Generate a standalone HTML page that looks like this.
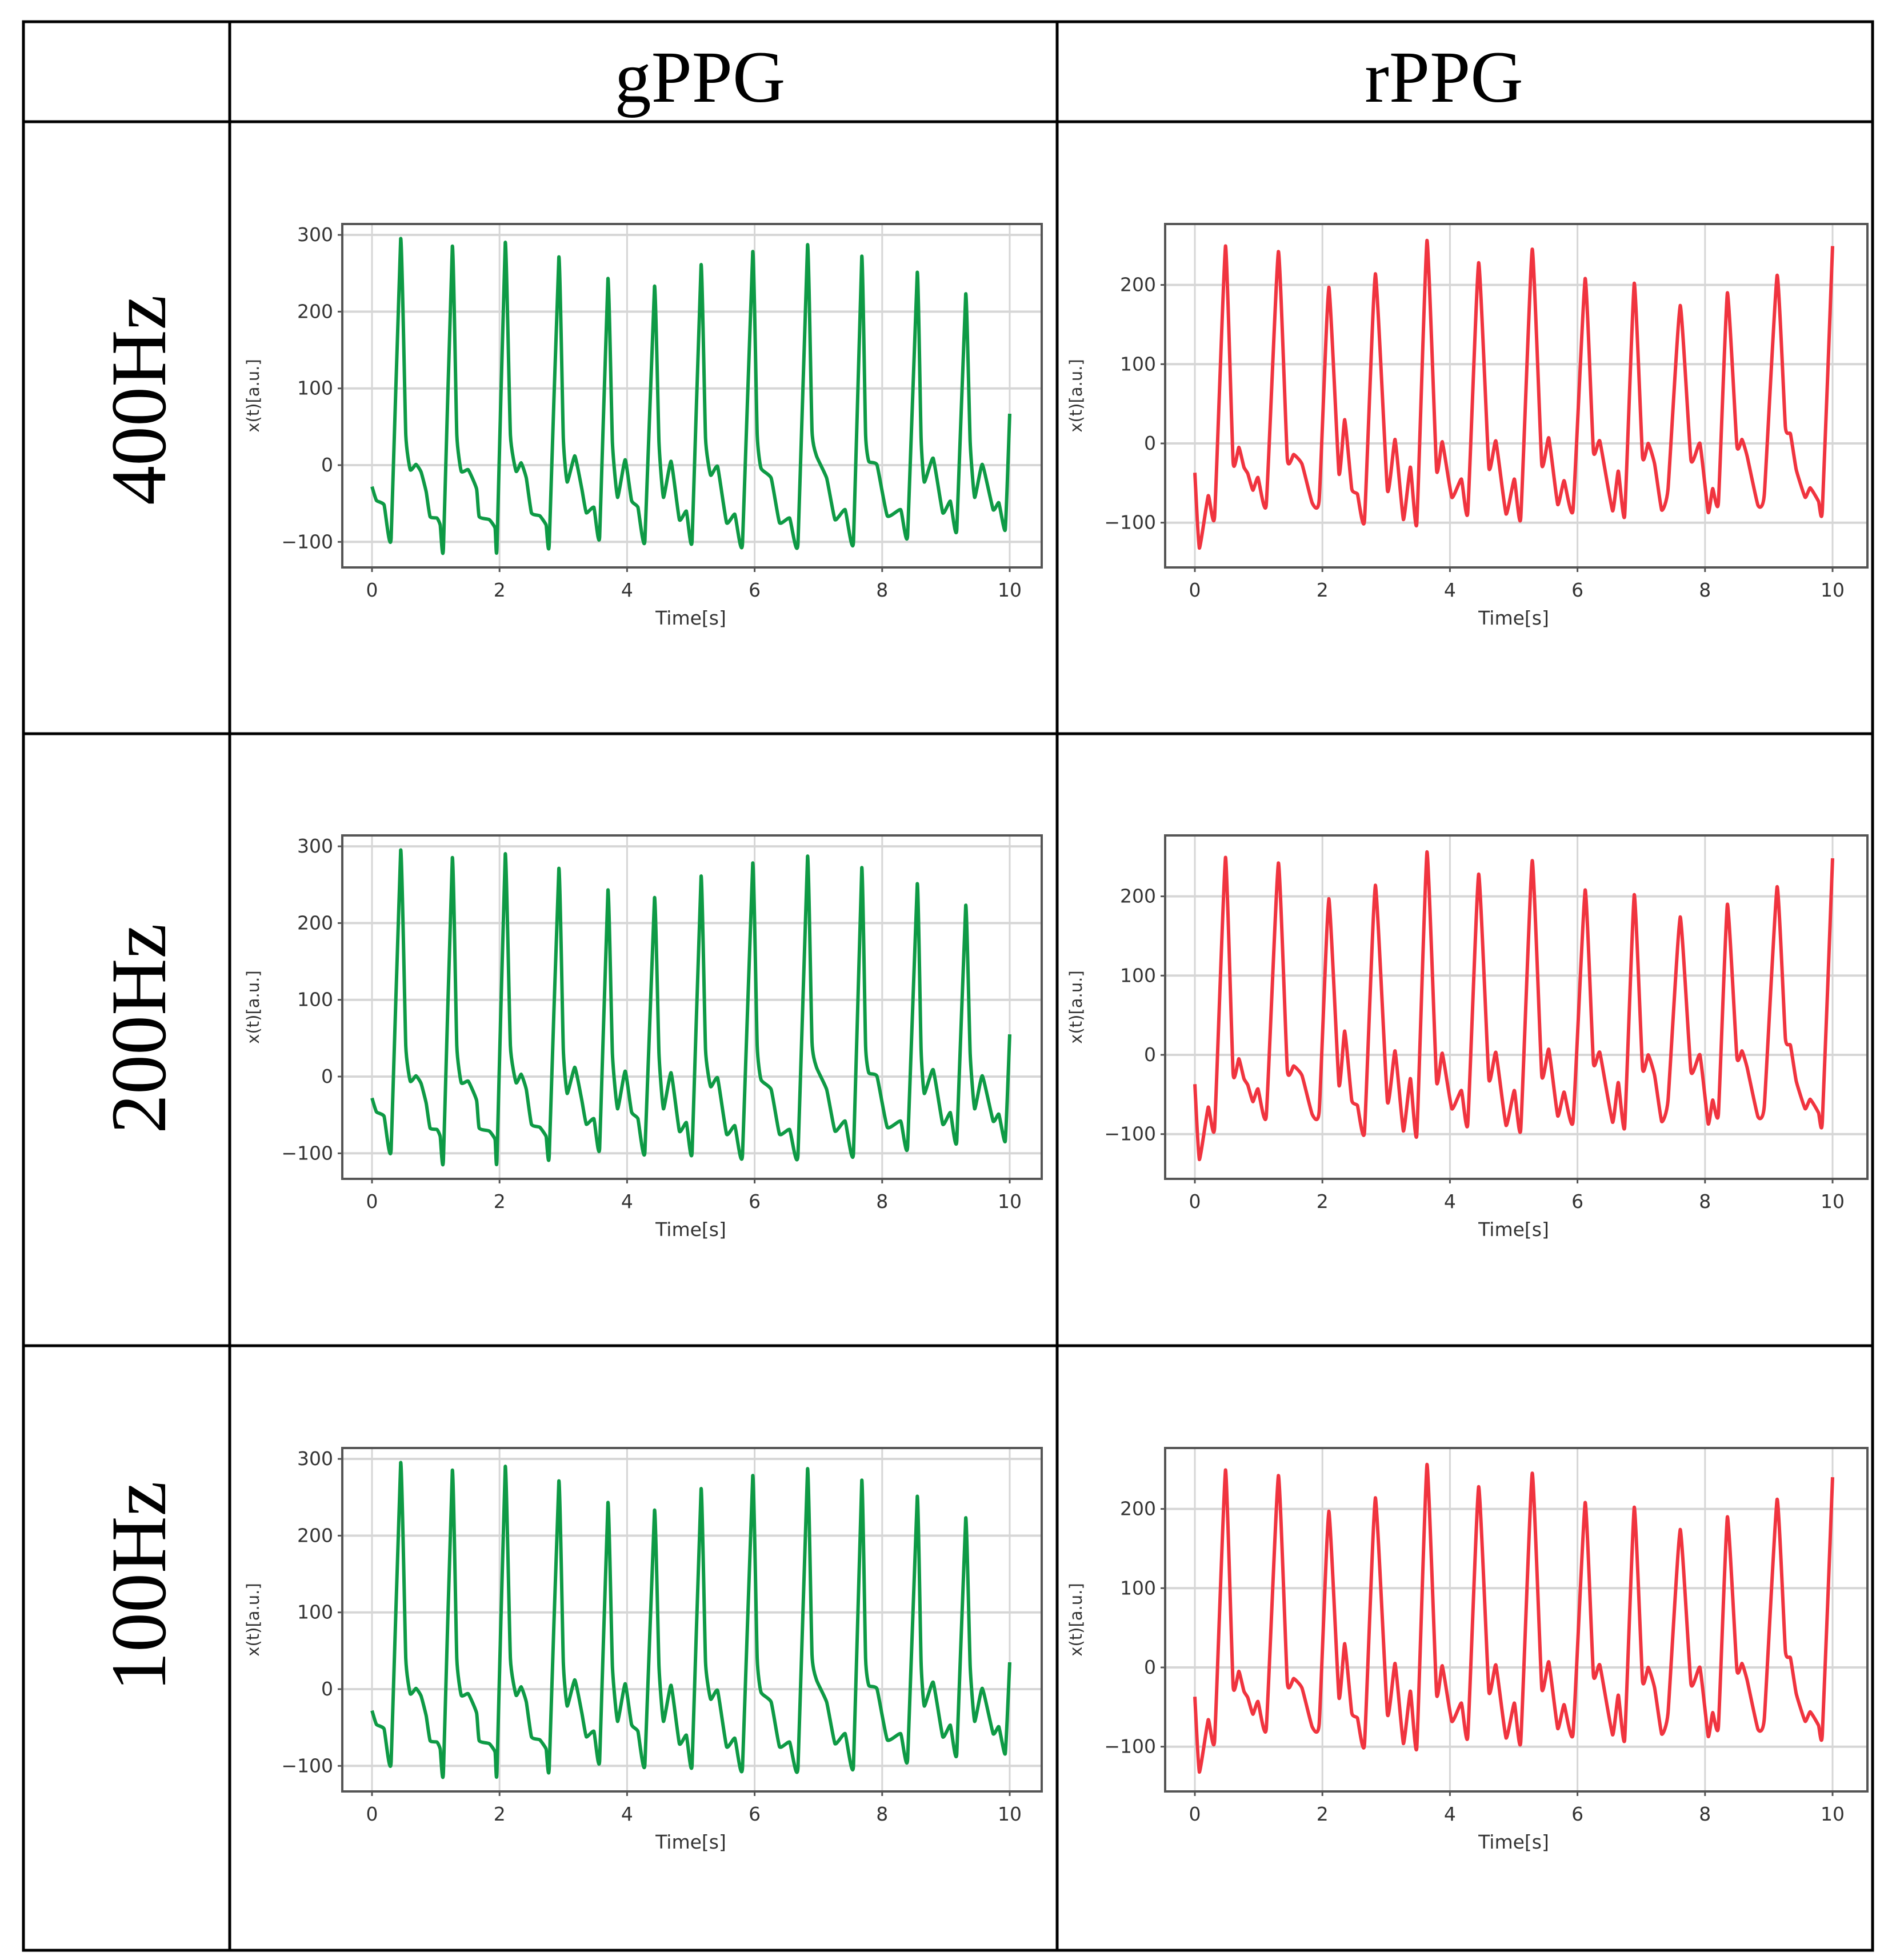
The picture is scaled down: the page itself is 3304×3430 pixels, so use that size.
<!DOCTYPE html>
<html><head><meta charset="utf-8"><style>
html,body{margin:0;padding:0;background:#fff;}
svg{display:block;}
</style></head><body>
<svg id="fig" width="3304" height="3430" viewBox="0 0 3304 3430" xmlns="http://www.w3.org/2000/svg">
<rect x="0" y="0" width="3304" height="3430" fill="#fff"/>
<g stroke="#000" stroke-width="5" fill="none">
<rect x="41" y="38" width="3236" height="3375"/>
<line x1="402" y1="38" x2="402" y2="3413"/>
<line x1="1850" y1="38" x2="1850" y2="3413"/>
<line x1="41" y1="213" x2="3277" y2="213"/>
<line x1="41" y1="1284" x2="3277" y2="1284"/>
<line x1="41" y1="2355" x2="3277" y2="2355"/>
</g>
<g font-family="Liberation Serif, serif" font-size="128" fill="#000" text-anchor="middle">
<text x="1225" y="178">gPPG</text>
<text x="2527" y="178">rPPG</text>
<text transform="translate(289,700) rotate(-90)" font-size="138">400Hz</text>
<text transform="translate(289,1800) rotate(-90)" font-size="138">200Hz</text>
<text transform="translate(289,2776) rotate(-90)" font-size="138">100Hz</text>
</g>
<g id="plots"></g>
</svg>
<script>
// gPPG waveform (time s, value a.u.)
const gTimes = [0,0.07,0.19,0.30,0.45,0.53,0.60,0.69,0.77,0.85,0.91,1.02,1.07,1.12,1.26,1.33,1.40,1.51,1.64,1.68,1.84,1.93,1.96,2.09,2.17,2.26,2.34,2.42,2.50,2.63,2.73,2.78,2.93,3.00,3.06,3.18,3.29,3.36,3.48,3.57,3.70,3.77,3.85,3.97,4.07,4.17,4.28,4.43,4.50,4.57,4.69,4.82,4.93,5.02,5.16,5.23,5.31,5.42,5.56,5.69,5.81,5.97,6.04,6.10,6.26,6.39,6.55,6.68,6.83,6.90,6.97,7.13,7.26,7.42,7.55,7.68,7.74,7.79,7.92,8.08,8.29,8.40,8.55,8.61,8.66,8.80,8.95,9.07,9.17,9.31,9.38,9.45,9.57,9.74,9.83,9.93,10];
const gValues = [-28,-46,-52,-95,295,40,-6,1,-9,-35,-67,-69,-78,-108,285,40,-8,-6,-31,-67,-71,-82,-107,290,40,-8,3,-17,-62,-66,-78,-102,271,35,-22,12,-31,-62,-55,-93,243,30,-42,7,-46,-55,-98,233,30,-42,5,-71,-60,-98,261,35,-13,-2,-75,-64,-102,278,40,-4,-17,-75,-69,-102,287,45,12,-17,-71,-58,-100,272,40,5,0,-66,-58,-91,251,35,-22,9,-62,-47,-84,223,30,-42,1,-58,-49,-84,67];
const gEndValues = [67, 55, 35];
// rPPG waveform
const rTimes = [0,0.07,0.21,0.31,0.48,0.60,0.69,0.77,0.83,0.91,0.99,1.12,1.31,1.45,1.55,1.68,1.84,1.95,2.10,2.26,2.35,2.46,2.55,2.66,2.83,3.02,3.14,3.27,3.38,3.48,3.64,3.79,3.88,4.03,4.18,4.28,4.45,4.61,4.72,4.88,5.01,5.11,5.29,5.44,5.55,5.69,5.79,5.93,6.12,6.25,6.35,6.55,6.64,6.74,6.89,7.02,7.11,7.21,7.32,7.42,7.61,7.78,7.92,8.05,8.12,8.21,8.35,8.50,8.58,8.66,8.83,8.93,9.13,9.26,9.34,9.43,9.57,9.65,9.78,9.84,10];
const rValues = [-37,-132,-66,-92,249,-24,-5,-30,-38,-59,-43,-77,242,-19,-14,-26,-75,-71,197,-38,30,-57,-64,-97,214,-59,5,-96,-30,-101,256,-33,2,-68,-45,-87,228,-30,3,-89,-45,-94,245,-26,7,-77,-47,-84,208,-10,3,-85,-35,-91,202,-17,0,-26,-84,-57,174,-21,0,-87,-57,-75,190,-3,5,-16,-78,-64,212,21,12,-33,-68,-56,-73,-84,249];
const rEndValues = [249, 248, 240];
const xTicks = [0,2,4,6,8,10];
const gYTicks = [-100,0,100,200,300];
const rYTicks = [-100,0,100,200];
const rowOffsets = [0,1070,2142];
const rowNames = ['400hz','200hz','100hz'];

const NS='http://www.w3.org/2000/svg';
const root=document.getElementById('plots');
function mk(tag, attrs, parent){const e=document.createElementNS(NS,tag);for(const k in attrs)e.setAttribute(k,attrs[k]);parent.appendChild(e);return e;}

function smoothPath(pts){
  let d='M'+pts[0][0].toFixed(1)+','+pts[0][1].toFixed(1);
  const k=0.07;
  for(let i=0;i<pts.length-1;i++){
    const p0=pts[Math.max(0,i-1)],p1=pts[i],p2=pts[i+1],p3=pts[Math.min(pts.length-1,i+2)];
    const c1x=p1[0]+(p2[0]-p0[0])*k, c1y=p1[1]+(p2[1]-p0[1])*k;
    const c2x=p2[0]-(p3[0]-p1[0])*k, c2y=p2[1]-(p3[1]-p1[1])*k;
    d+='C'+c1x.toFixed(1)+','+c1y.toFixed(1)+' '+c2x.toFixed(1)+','+c2y.toFixed(1)+' '+p2[0].toFixed(1)+','+p2[1].toFixed(1);
  }
  return d;
}

function drawPlot(cfg){
  const g=mk('g',{},root);
  
  
  const xs=t=>cfg.x0+(t-0)*(cfg.x10-cfg.x0)/10;
  const ys=v=>cfg.yZero-v*cfg.yScale;
  xTicks.forEach(t=>{const l=mk('line',{x1:xs(t),x2:xs(t),y1:cfg.top,y2:cfg.bottom,stroke:'#d6d6d6','stroke-width':3},g);
    
    });
  cfg.yTicks.forEach(v=>{const l=mk('line',{x1:cfg.left,x2:cfg.right,y1:ys(v),y2:ys(v),stroke:'#d6d6d6','stroke-width':4},g);
    
    });
  const pts=cfg.times.map((t,i)=>[xs(t), ys(i===cfg.times.length-1?cfg.endVal:cfg.values[i])]);
  const p=mk('path',{d:smoothPath(pts),fill:'none',stroke:cfg.color,'stroke-width':6,'stroke-linejoin':'round'},g);
  
  
  const fr=mk('rect',{x:cfg.left,y:cfg.top,width:cfg.right-cfg.left,height:cfg.bottom-cfg.top,fill:'none',stroke:'#555','stroke-width':4},g);
  
  
  xTicks.forEach(t=>{const tx=mk('text',{x:xs(t),y:cfg.bottom+51,'font-family':'DejaVu Sans, sans-serif','font-size':33,fill:'#333','text-anchor':'middle'},g);
    tx.textContent=String(t);
    
    
    mk('line',{x1:xs(t),x2:xs(t),y1:cfg.bottom,y2:cfg.bottom+8,stroke:'#555','stroke-width':3},g);});
  cfg.yTicks.forEach(v=>{const tx=mk('text',{x:cfg.left-16,y:ys(v)+11,'font-family':'DejaVu Sans, sans-serif','font-size':33,fill:'#333','text-anchor':'end'},g);
    tx.textContent=(v<0?'\u2212':'')+Math.abs(v);
    
    
    mk('line',{x1:cfg.left-8,x2:cfg.left,y1:ys(v),y2:ys(v),stroke:'#555','stroke-width':3},g);});
  const xl=mk('text',{x:(cfg.x0+cfg.x10)/2,y:cfg.bottom+100,'font-family':'DejaVu Sans, sans-serif','font-size':33,fill:'#333','text-anchor':'middle'},g);
  xl.textContent='Time[s]';
  
  
  const yl=mk('text',{transform:'translate('+(cfg.left-146)+','+((cfg.top+cfg.bottom)/2)+') rotate(-90)','font-family':'DejaVu Sans, sans-serif','font-size':29,fill:'#333','text-anchor':'middle'},g);
  yl.textContent='x(t)[a.u.]';
  
  
}

rowOffsets.forEach((dy,r)=>{
  drawPlot({name:'gppg-plot-'+rowNames[r],seriesName:'gppg-line-'+rowNames[r],left:599,right:1823,top:392+dy,bottom:993+dy,x0:651,x10:1767,yZero:814+dy,yScale:1.343,yTicks:gYTicks,times:gTimes,values:gValues,endVal:gEndValues[r],color:'#0e9a45'});
  drawPlot({name:'rppg-plot-'+rowNames[r],seriesName:'rppg-line-'+rowNames[r],left:2039,right:3268,top:392+dy,bottom:993+dy,x0:2091,x10:3207,yZero:776+dy,yScale:1.387,yTicks:rYTicks,times:rTimes,values:rValues,endVal:rEndValues[r],color:'#f0343f'});
});
</script>
</body></html>
